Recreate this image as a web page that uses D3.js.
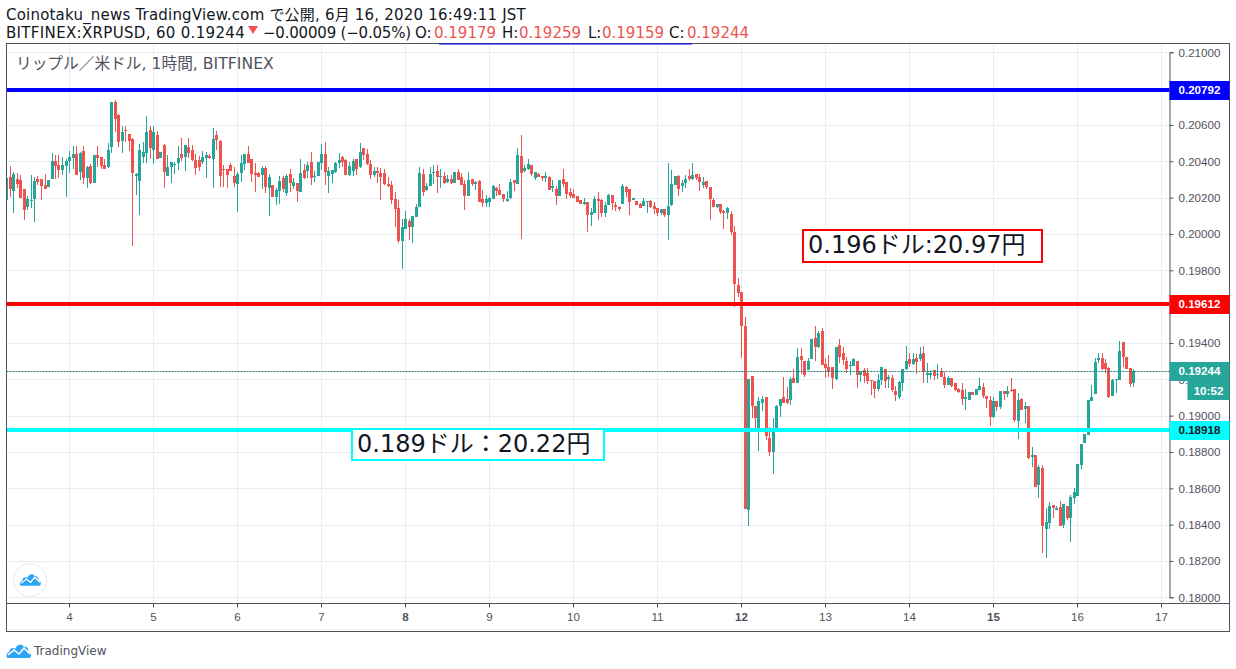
<!DOCTYPE html>
<html>
<head>
<meta charset="utf-8">
<script src="https://cdn.jsdelivr.net/npm/d3@7"></script>
<style>
html, body { margin: 0; padding: 0; background: #fff; }
svg { display: block; }
text { font-family: "DejaVu Sans", "Noto Sans CJK JP", sans-serif; }
</style>
</head>
<body>
<script>
const svgWidth = 1236
const svgHeight = 669

const plot = { left: 6.5, top: 43.5, right: 1169.5, bottom: 603.5, outerRight: 1229.5, outerBottom: 631.5 }

const colorUp = "#26a69a"
const colorDown = "#ef5350"
const colorGrid = "#e6eef4"
const colorAxis = "#50535e"

// hourly candles, 1e-5 dollars, first candle is 3 June 06:00 JST
const opens = [
20189,20316,20239,20305,20299,20250,20150,20180,20195,20305,
20305,20272,20261,20305,20404,20382,20354,20376,20404,20420,
20442,20343,20459,20310,20376,20283,20437,20426,20382,20371,
20481,20729,20657,20514,20574,20552,20525,20321,20294,20426,
20448,20574,20464,20547,20420,20492,20321,20371,20384,20393,
20442,20426,20481,20464,20409,20409,20398,20420,20431,20415,
20547,20514,20360,20360,20382,20321,20277,20338,20387,20442,
20415,20338,20338,20327,20365,20253,20270,20204,20237,20308,
20226,20330,20264,20281,20231,20352,20347,20396,20316,20319,
20391,20440,20319,20330,20341,20391,20424,20407,20325,20347,
20413,20369,20473,20440,20385,20325,20347,20336,20336,20275,
20270,20193,20143,19961,20028,20072,20039,20094,20149,20330,
20242,20264,20336,20347,20314,20319,20286,20303,20281,20341,
20314,20275,20209,20303,20275,20292,20193,20171,20176,20193,
20253,20242,20220,20182,20198,20297,20275,20429,20347,20358,
20380,20308,20330,20319,20308,20314,20253,20248,20209,20303,
20286,20231,20220,20209,20187,20165,20176,20105,20116,20193,
20187,20116,20160,20215,20160,20149,20165,20259,20248,20187,
20182,20165,20154,20176,20182,20154,20143,20116,20138,20105,
20160,20270,20319,20264,20281,20319,20303,20330,20314,20270,
20292,20259,20187,20149,20165,20127,20116,20110,20011,19719,
19683,19495,18483,19220,19055,18934,19072,19105,18879,18802,
18934,19055,19105,19094,19088,19209,19182,19330,19303,19253,
19314,19429,19380,19468,19286,19270,19270,19204,19391,19347,
19303,19275,19275,19303,19226,19253,19237,19198,19193,19149,
19198,19259,19204,19209,19138,19105,19182,19259,19314,19286,
19319,19314,19347,19226,19226,19253,19226,19248,19215,19171,
19209,19182,19149,19143,19094,19088,19132,19116,19143,19160,
19110,19088,18994,19083,19050,19138,19121,19143,19149,18972,
19094,19039,19055,18774,18785,18620,18714,18378,18411,18510,
18483,18499,18400,18505,18438,18549,18560,18730,18851,18895,
19083,19121,19308,19319,19292,19264,19110,19198,19198,19407,
19325,19264,19179]

const highs = [
20312,20376,20339,20336,20327,20250,20209,20327,20316,20321,
20305,20332,20299,20448,20437,20437,20426,20415,20459,20486,
20486,20453,20486,20376,20387,20437,20486,20426,20415,20503,
20729,20740,20662,20596,20596,20552,20530,20338,20497,20508,
20651,20596,20596,20569,20453,20497,20437,20398,20398,20486,
20530,20492,20530,20492,20442,20431,20459,20453,20442,20585,
20569,20519,20382,20360,20393,20371,20343,20437,20442,20486,
20415,20393,20343,20376,20376,20330,20270,20253,20319,20319,
20330,20358,20308,20281,20413,20385,20396,20451,20347,20396,
20495,20506,20369,20352,20396,20446,20429,20413,20396,20413,
20413,20501,20473,20468,20407,20369,20369,20363,20358,20314,
20292,20231,20187,20083,20127,20083,20099,20165,20369,20358,
20281,20369,20380,20380,20358,20341,20325,20325,20341,20358,
20336,20297,20341,20303,20292,20297,20242,20215,20204,20270,
20259,20275,20220,20237,20303,20297,20473,20545,20380,20413,
20380,20341,20336,20319,20341,20319,20297,20264,20297,20358,
20286,20253,20248,20209,20187,20198,20176,20143,20209,20231,
20193,20176,20220,20215,20176,20154,20275,20264,20248,20198,
20182,20171,20198,20182,20187,20176,20143,20138,20138,20391,
20352,20319,20325,20297,20325,20358,20391,20330,20330,20314,
20292,20259,20198,20165,20165,20132,20149,20127,20044,19758,
19683,19545,19204,19220,19055,19105,19110,19105,18939,18989,
19061,19094,19215,19160,19215,19259,19374,19374,19303,19319,
19424,19495,19468,19484,19319,19336,19270,19380,19424,19380,
19325,19303,19319,19303,19248,19264,19264,19198,19193,19231,
19270,19259,19226,19226,19165,19193,19259,19385,19347,19347,
19341,19380,19385,19292,19253,19253,19286,19264,19242,19220,
19209,19182,19154,19182,19149,19132,19132,19149,19209,19182,
19110,19110,19105,19083,19138,19138,19165,19209,19149,19127,
19099,19077,19055,18829,18785,18730,18730,18494,18527,18510,
18505,18532,18516,18505,18565,18604,18736,18846,18901,19088,
19171,19319,19347,19347,19314,19270,19204,19204,19413,19407,
19325,19264,19259]

const lows = [
20187,20202,20117,20255,20200,20079,20134,20145,20068,20272,
20189,20250,20261,20305,20305,20310,20327,20206,20338,20360,
20327,20299,20277,20255,20277,20283,20371,20360,20360,20365,
20448,20563,20481,20448,20508,20459,19936,20217,20106,20391,
20391,20415,20387,20415,20420,20255,20321,20283,20332,20354,
20404,20349,20420,20404,20327,20349,20387,20310,20415,20255,
20464,20261,20261,20255,20349,20261,20123,20288,20354,20393,
20288,20233,20316,20250,20228,20099,20204,20160,20165,20231,
20209,20231,20248,20176,20231,20303,20308,20270,20286,20319,
20352,20270,20226,20281,20336,20363,20369,20325,20319,20319,
20325,20363,20407,20380,20303,20314,20281,20187,20270,20259,
20165,20039,19950,19807,20028,19967,19950,20094,20149,20209,
20237,20264,20275,20226,20253,20275,20281,20275,20281,20297,
20270,20132,20209,20264,20242,20176,20149,20149,20149,20193,
20209,20215,20176,20176,20193,20237,20275,19972,20341,20352,
20319,20297,20314,20292,20286,20242,20231,20160,20209,20259,
20193,20198,20198,20176,20165,20160,20011,20044,20116,20077,
20094,20094,20160,20132,20127,20127,20165,20204,20105,20187,
20160,20143,20154,20116,20143,20110,20099,20105,20094,19967,
20154,20270,20209,20231,20253,20292,20297,20297,20237,20253,
20248,20077,20149,20143,20110,20028,20083,19994,19598,19653,
19319,18488,18394,18989,18934,18807,19028,18868,18780,18681,
18934,18994,19072,19066,19061,19182,19182,19231,19215,19253,
19314,19303,19374,19281,19209,19215,19149,19198,19292,19281,
19237,19226,19275,19154,19187,19182,19176,19116,19099,19138,
19171,19154,19154,19132,19083,19094,19138,19253,19270,19281,
19231,19303,19182,19182,19204,19198,19204,19215,19154,19171,
19160,19138,19127,19061,19033,19088,19116,19116,19143,19099,
19044,18945,18989,19028,19039,19088,19105,19132,18967,18873,
19033,18961,18763,18719,18609,18549,18246,18218,18378,18438,
18483,18394,18383,18427,18306,18516,18560,18708,18851,18895,
19083,19121,19292,19253,19237,19099,19110,19127,19198,19270,
19259,19160,19159]

const closes = [
20308,20250,20332,20277,20200,20134,20195,20189,20294,20288,
20266,20250,20299,20404,20376,20354,20382,20404,20426,20442,
20327,20448,20310,20371,20283,20437,20420,20376,20360,20464,
20729,20635,20508,20563,20571,20514,20338,20332,20464,20453,
20563,20475,20563,20415,20453,20343,20371,20398,20387,20420,
20420,20492,20448,20409,20365,20371,20426,20437,20420,20525,
20519,20321,20354,20327,20349,20283,20332,20393,20442,20393,
20332,20327,20316,20365,20261,20314,20204,20242,20292,20248,
20319,20281,20286,20237,20336,20308,20380,20308,20319,20396,
20440,20341,20347,20352,20391,20407,20396,20325,20374,20402,
20358,20451,20435,20385,20325,20347,20336,20314,20275,20264,
20187,20138,19961,20039,20083,20039,20099,20149,20336,20231,
20264,20330,20341,20314,20319,20281,20303,20281,20341,20297,
20270,20209,20297,20275,20286,20176,20171,20193,20198,20264,
20237,20215,20193,20193,20286,20281,20435,20336,20363,20385,
20330,20341,20314,20308,20319,20242,20264,20209,20297,20275,
20220,20209,20198,20176,20165,20176,20105,20121,20193,20182,
20116,20160,20215,20171,20149,20138,20264,20231,20176,20198,
20160,20143,20182,20182,20149,20138,20116,20138,20105,20154,
20275,20319,20248,20281,20303,20303,20325,20308,20286,20286,
20259,20193,20149,20165,20121,20116,20143,20011,19725,19675,
19492,18488,19204,19055,18989,19083,19094,18890,18802,18912,
19055,19094,19072,19072,19204,19182,19325,19308,19226,19303,
19424,19380,19457,19281,19264,19242,19209,19380,19325,19308,
19259,19281,19314,19226,19248,19220,19193,19193,19149,19198,
19270,19193,19215,19143,19116,19187,19259,19303,19286,19314,
19297,19341,19242,19237,19237,19220,19231,19215,19171,19209,
19165,19143,19132,19094,19105,19132,19116,19149,19165,19110,
19094,18994,19083,19050,19138,19121,19138,19138,18978,19088,
19033,19055,18769,18785,18609,18719,18394,18416,18505,18494,
18494,18394,18516,18438,18554,18582,18736,18846,18901,19088,
19105,19297,19319,19259,19259,19105,19198,19204,19358,19325,
19259,19176,19244]

const priceTicks = [0.18, 0.182, 0.184, 0.186, 0.188, 0.19, 0.192, 0.194, 0.196, 0.198, 0.2, 0.202, 0.204, 0.206, 0.208, 0.21]
// these two sit fully under the level labels
const hiddenTicks = [0.196, 0.208]
const dayLabels = [4, 5, 6, 7, 8, 9, 10, 11, 12, 13, 14, 15, 16, 17]
const boldDays = [8, 12, 15]
const lastPrice = 0.19244

const levelPrices = [0.20792, 0.19612, 0.18918]
const levelColors = ["#0000ff", "#ff0000", "#00ffff"]
const levelTextColors = ["#ffffff", "#ffffff", "#131722"]

const svg = d3.select("body").append("svg")
    .attr("width", svgWidth)
    .attr("height", svgHeight)
    .attr("viewBox", `0 0 ${svgWidth} ${svgHeight}`)

svg.append("defs").append("clipPath").attr("id", "plotClip")
    .append("rect")
    .attr("x", plot.left)
    .attr("y", plot.top)
    .attr("width", plot.right - plot.left)
    .attr("height", plot.bottom - plot.top)

const y = d3.scaleLinear().domain([0.18, 0.21]).range([597.3, 52.3])
// hours since 4 June 00:00
const x = d3.scaleLinear().domain([0, 13 * 24]).range([69, 1161])

const candles = opens.map((o, i) => ({
    hour: i - 18,
    open: o / 1e5,
    high: highs[i] / 1e5,
    low: lows[i] / 1e5,
    close: closes[i] / 1e5
}))

// grid
const gridG = svg.append("g").attr("stroke", colorGrid).attr("stroke-width", 1)
gridG.selectAll("line.h").data(priceTicks).join("line")
    .attr("class", "h")
    .attr("x1", plot.left).attr("x2", plot.right)
    .attr("y1", d => Math.round(y(d)) + 0.5).attr("y2", d => Math.round(y(d)) + 0.5)
gridG.selectAll("line.v").data(dayLabels).join("line")
    .attr("class", "v")
    .attr("x1", d => x((d - 4) * 24) + 0.5).attr("x2", d => x((d - 4) * 24) + 0.5)
    .attr("y1", plot.top).attr("y2", plot.bottom)

// candles
const candleG = svg.append("g")
    .attr("clip-path", "url(#plotClip)")
    .attr("shape-rendering", "crispEdges")

const candleColor = d => d.close >= d.open ? colorUp : colorDown

candleG.selectAll("rect.wick").data(candles).join("rect")
    .attr("class", "wick")
    .attr("x", d => Math.round(x(d.hour)))
    .attr("width", 1)
    .attr("y", d => y(d.high))
    .attr("height", d => y(d.low) - y(d.high))
    .attr("fill", candleColor)

candleG.selectAll("rect.body").data(candles).join("rect")
    .attr("class", "body")
    .attr("x", d => Math.round(x(d.hour)) - 1)
    .attr("width", 3)
    .attr("y", d => y(Math.max(d.open, d.close)))
    .attr("height", d => Math.max(1, Math.abs(y(d.open) - y(d.close))))
    .attr("fill", candleColor)

// last price line
svg.append("line")
    .attr("x1", plot.left).attr("x2", plot.right)
    .attr("y1", Math.round(y(lastPrice)) + 0.5).attr("y2", Math.round(y(lastPrice)) + 0.5)
    .attr("stroke", "#2a7f78")
    .attr("stroke-dasharray", "2,1")

// horizontal levels
svg.append("g").selectAll("line").data(levelPrices).join("line")
    .attr("x1", plot.left).attr("x2", plot.right)
    .attr("y1", d => Math.floor(y(d))).attr("y2", d => Math.floor(y(d)))
    .attr("stroke", (d, i) => levelColors[i])
    .attr("stroke-width", 4)

// frame
const frameG = svg.append("g").attr("fill", "none").attr("stroke", colorAxis).attr("stroke-width", 1)
frameG.append("rect")
    .attr("x", plot.left).attr("y", plot.top)
    .attr("width", plot.outerRight - plot.left)
    .attr("height", plot.outerBottom - plot.top)

// axes
const priceAxis = d3.axisRight(y)
    .tickValues(priceTicks.filter(d => !hiddenTicks.includes(d)))
    .tickFormat(d3.format(".5f"))
    .tickSize(4)
    .tickPadding(5)

const axisR = svg.append("g")
    .attr("transform", `translate(${plot.right},0)`)
    .call(priceAxis)
axisR.select(".domain").attr("stroke", colorAxis)
axisR.selectAll(".tick line").attr("stroke", colorAxis)
axisR.selectAll(".tick text")
    .attr("fill", colorAxis)
    .style("font-family", '"Liberation Sans", sans-serif')
    .style("font-size", "11.6px")

const timeAxis = d3.axisBottom(x)
    .tickValues(dayLabels.map(d => (d - 4) * 24))
    .tickFormat(d => d / 24 + 4)
    .tickSize(4)
    .tickPadding(5)

const axisB = svg.append("g")
    .attr("transform", `translate(0,${plot.bottom})`)
    .call(timeAxis)
axisB.select(".domain").remove()
axisB.selectAll(".tick line").attr("stroke", colorAxis)
axisB.selectAll(".tick text")
    .attr("fill", colorAxis)
    .style("font-family", '"Liberation Sans", sans-serif')
    .style("font-size", "11.6px")
    .style("font-weight", d => boldDays.includes(d / 24 + 4) ? "bold" : "normal")
svg.append("line")
    .attr("x1", plot.left).attr("x2", plot.outerRight)
    .attr("y1", plot.bottom).attr("y2", plot.bottom)
    .attr("stroke", colorAxis)

// price labels on the right axis
const labelG = svg.append("g")
    .selectAll("g").data(levelPrices).join("g")
    .attr("transform", d => `translate(${plot.right},${Math.floor(y(d))})`)
labelG.append("rect")
    .attr("x", 0).attr("y", -9).attr("width", 60).attr("height", 19)
    .attr("fill", (d, i) => levelColors[i])
labelG.append("text")
    .attr("x", 9).attr("dy", "0.35em")
    .attr("fill", (d, i) => levelTextColors[i])
    .style("font-family", '"Liberation Sans", sans-serif')
    .style("font-size", "11.6px")
    .style("font-weight", "bold")
    .text(d => d3.format(".5f")(d))

const lastG = svg.append("g").attr("transform", `translate(${plot.right},${Math.round(y(lastPrice))})`)
lastG.append("rect")
    .attr("x", 0).attr("y", -9).attr("width", 60).attr("height", 19)
    .attr("fill", colorUp)
lastG.append("text")
    .attr("x", 9).attr("dy", "0.35em")
    .attr("fill", "#fff")
    .style("font-family", '"Liberation Sans", sans-serif')
    .style("font-size", "11.6px")
    .style("font-weight", "bold")
    .text(d3.format(".5f")(lastPrice))
lastG.append("rect")
    .attr("x", 18).attr("y", 10).attr("width", 42).attr("height", 19)
    .attr("fill", colorUp)
lastG.append("text")
    .attr("x", 39).attr("y", 19.5).attr("dy", "0.35em")
    .attr("text-anchor", "middle")
    .attr("fill", "#fff")
    .style("font-family", '"Liberation Sans", sans-serif')
    .style("font-size", "11.6px")
    .style("font-weight", "bold")
    .text("10:52")

// header
const headerColor = "#131722"
const header = svg.append("g").style("font-size", "15px")
header.append("text").attr("x", 6).attr("y", 20).attr("fill", headerColor)
    .style("letter-spacing", "0.2px")
    .text("Coinotaku_news TradingView.com で公開, 6月 16, 2020 16:49:11 JST")
header.append("text").attr("x", 6).attr("y", 38).attr("fill", headerColor)
    .style("letter-spacing", "0.33px")
    .text("BITFINEX:XRPUSD, 60 0.19244")
header.append("path")
    .attr("d", "M248 26H258L253 34Z")
    .attr("fill", colorDown)
header.append("text").attr("x", 263).attr("y", 38).attr("fill", headerColor)
    .style("letter-spacing", "-0.2px")
    .text("−0.00009 (−0.05%)")
const ohlcLabels = ["O:", "H:", "L:", "C:"]
const ohlcValues = ["0.19179", "0.19259", "0.19159", "0.19244"]
const ohlcLabelX = [415, 502, 588, 669]
const ohlcValueX = [434, 519, 602, 687]
ohlcLabels.forEach((t, i) => {
    header.append("text").attr("x", ohlcLabelX[i]).attr("y", 38).attr("fill", headerColor).text(t)
    header.append("text").attr("x", ohlcValueX[i]).attr("y", 38).attr("fill", colorDown).text(ohlcValues[i])
})
svg.append("line")
    .attr("x1", 439).attr("x2", 692).attr("y1", 44).attr("y2", 44)
    .attr("stroke", "#0000ff")

// pane legend
svg.append("text")
    .attr("x", 16).attr("y", 69)
    .attr("fill", colorAxis)
    .style("font-size", "15.7px")
    .text("リップル／米ドル, 1時間, BITFINEX")

// annotation boxes
const noteTexts = ["0.196ドル:20.97円", "0.189ドル：20.22円"]
const noteColors = ["#ff0000", "#00ffff"]
const noteBoxes = [[803, 230, 239, 32], [352, 429, 252, 31]]
const notes = svg.append("g").selectAll("g").data(noteTexts).join("g")
notes.append("rect")
    .attr("x", (d, i) => noteBoxes[i][0]).attr("y", (d, i) => noteBoxes[i][1])
    .attr("width", (d, i) => noteBoxes[i][2]).attr("height", (d, i) => noteBoxes[i][3])
    .attr("fill", "#fff")
    .attr("stroke", (d, i) => noteColors[i])
    .attr("stroke-width", 2)
notes.append("text")
    .attr("x", (d, i) => noteBoxes[i][0] + 5).attr("y", (d, i) => noteBoxes[i][1] + 23)
    .attr("fill", "#131722")
    .style("font-size", "24px")
    .text(d => d)

// logos
const cloud = (g, scale) => {
    g.append("path")
        .attr("transform", `scale(${scale})`)
        .attr("d", "M2 15C0 15 0 10 3 9C4 5 7 4 9 6C11 1 16 0 18 4C21 3 23 6 22 9C26 9 26 15 23 15Z")
        .attr("fill", "#2fa4f5")
    g.append("polyline")
        .attr("transform", `scale(${scale})`)
        .attr("points", "2,12 8,7 13,11 18,5 24,11")
        .attr("fill", "none")
        .attr("stroke", "#fff")
        .attr("stroke-width", 1.5)
}
svg.append("circle")
    .attr("cx", 30).attr("cy", 580).attr("r", 16.5)
    .attr("fill", "#fff").attr("stroke", "#e8e8e8").attr("stroke-width", 1)
cloud(svg.append("g").attr("transform", "translate(19.5,573)"), 0.85)
cloud(svg.append("g").attr("transform", "translate(6,643)"), 1)
svg.append("text")
    .attr("x", 34).attr("y", 655)
    .attr("fill", colorAxis)
    .style("font-size", "12px")
    .text("TradingView")
</script>
</body>
</html>
